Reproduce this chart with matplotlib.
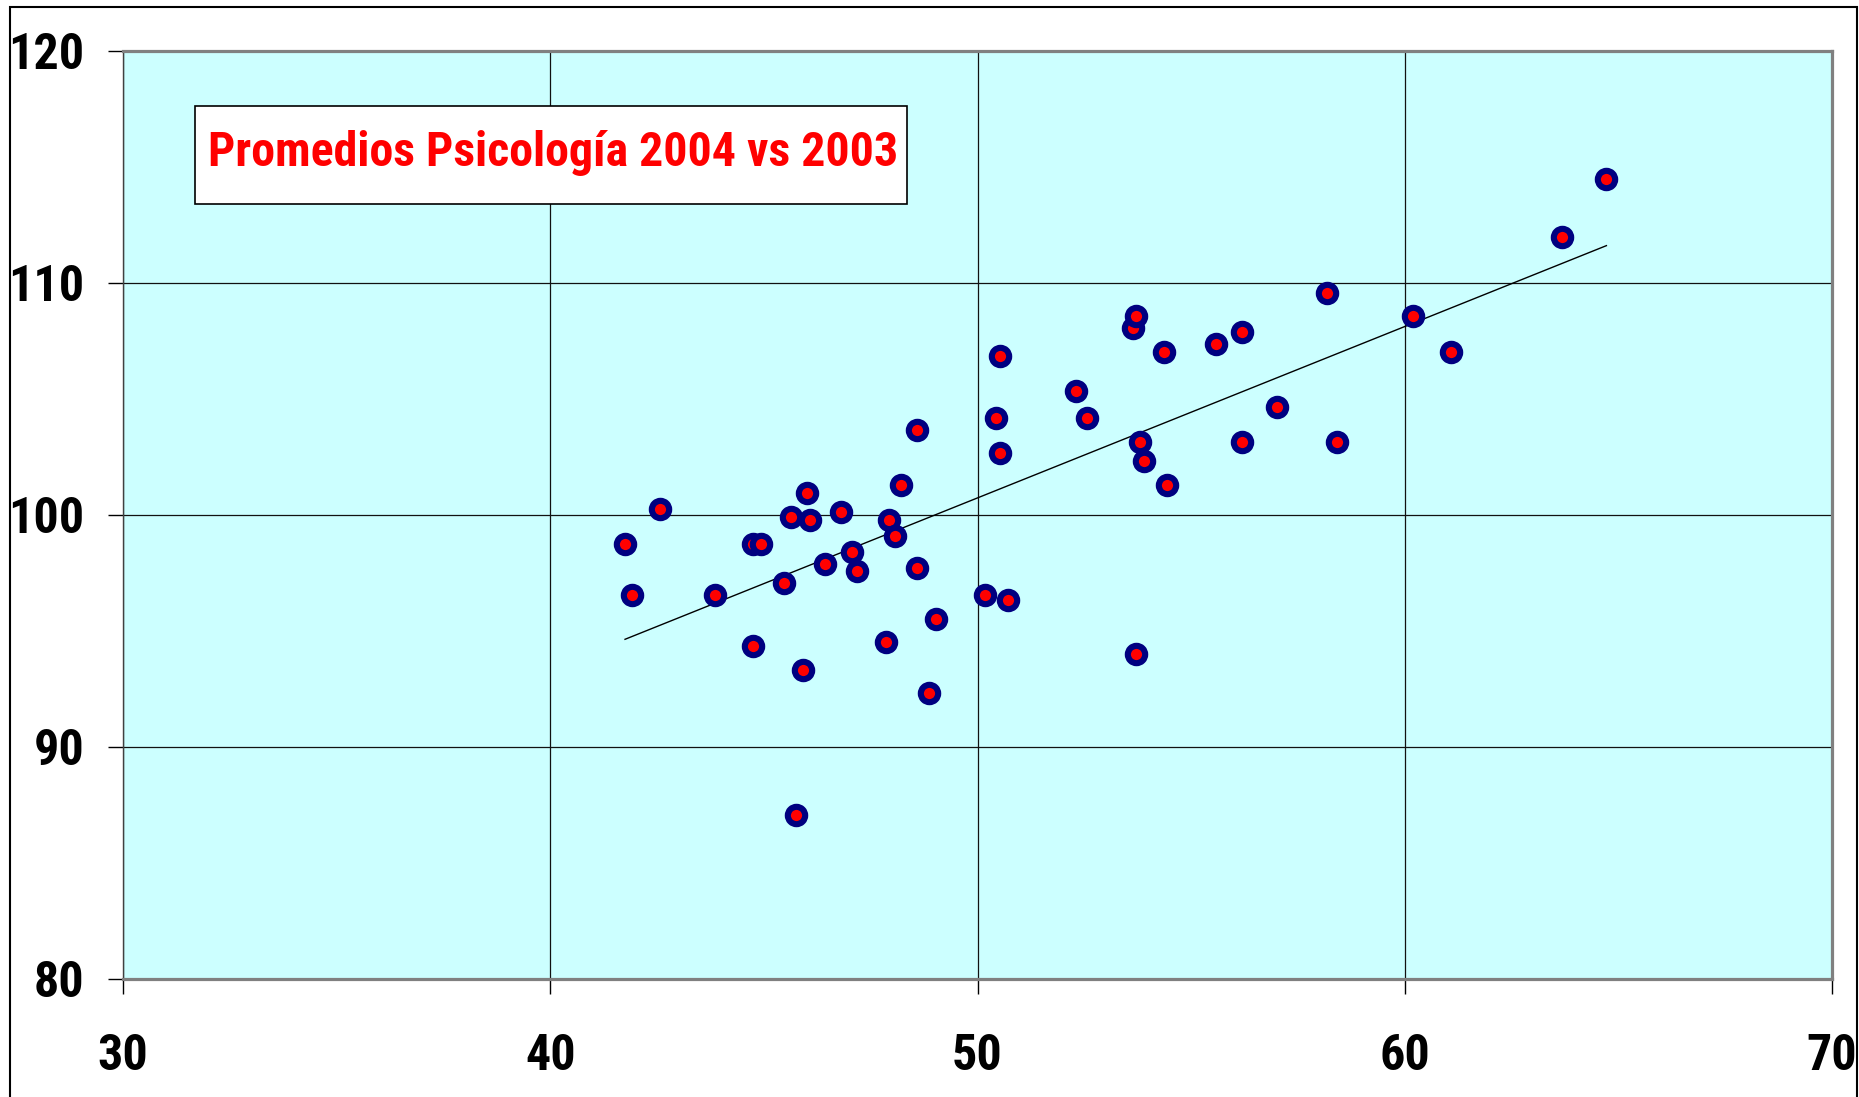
import matplotlib
matplotlib.use("Agg")
import matplotlib.pyplot as plt
from matplotlib.patches import Rectangle
import numpy as np

plt.rcParams['font.family'] = ['Roboto Condensed', 'DejaVu Sans']

# promedio 2003 (x) vs promedio 2004 (y)
prom_2003 = [41.75, 41.92, 42.56, 43.86, 44.75, 44.94, 44.75, 45.47, 45.64, 46.00,
             46.08, 45.92, 45.75, 46.44, 46.81, 47.06, 47.17, 47.86, 47.94, 48.06,
             48.22, 48.58, 48.58, 49.03, 48.86, 50.17, 50.44, 50.53, 50.53, 50.72,
             52.31, 52.56, 53.64, 53.72, 53.72, 53.81, 53.89, 54.36, 54.44, 55.58,
             56.19, 56.19, 57.00, 58.17, 58.42, 60.19, 61.08, 63.67, 64.72]
prom_2004 = [98.75, 96.55, 100.28, 96.55, 98.75, 98.75, 94.36, 97.06, 99.92, 100.95,
             99.77, 93.33, 87.05, 97.88, 100.13, 98.39, 97.57, 94.51, 99.77, 99.11,
             101.30, 103.65, 97.73, 95.53, 92.31, 96.55, 104.16, 106.87, 102.68, 96.35,
             105.34, 104.16, 108.05, 108.56, 94.00, 103.14, 102.32, 107.02, 101.30, 107.38,
             107.89, 103.14, 104.67, 109.58, 103.14, 108.56, 107.02, 111.98, 114.48]

x_ticks = [30, 40, 50, 60, 70]
y_ticks = [80, 90, 100, 110, 120]
titulo = "Promedios Psicología 2004 vs 2003"

fig = plt.figure(figsize=(18.59, 10.97), dpi=100)
ax = fig.add_axes([123 / 1859, 1 - 979 / 1097, (1832 - 123) / 1859, (979 - 51) / 1097])
ax.set_facecolor('#ccffff')

ax.set_xlim(30, 70)
ax.set_ylim(80, 120)
ax.set_xticks(x_ticks)
ax.set_yticks(y_ticks)
ax.grid(True, color='#111111', linewidth=0.9)
ax.set_axisbelow(True)

# linea de tendencia (ajuste lineal)
x = np.array(prom_2003)
y = np.array(prom_2004)
m, b = np.polyfit(x, y, 1)
xs = np.array([x.min(), x.max()])
ax.plot(xs, m * xs + b, color='black', linewidth=1.0, zorder=3)

ax.plot(x, y, linestyle='none', marker='o', markersize=12.5,
        markerfacecolor='red', markeredgecolor='#000080', markeredgewidth=4.4, zorder=4)

for s in ['top', 'right', 'bottom']:
    ax.spines[s].set_color('#808080')
    ax.spines[s].set_linewidth(2.3)
ax.spines['left'].set_color('#404040')
ax.spines['left'].set_linewidth(1.0)

ax.tick_params(direction='out', length=11, width=1, color='black',
               labelsize=36, labelcolor='black')
ax.tick_params(axis='y', pad=17)
ax.tick_params(axis='x', pad=28)
for lbl in ax.get_xticklabels() + ax.get_yticklabels():
    lbl.set_fontweight('bold')

# cuadro del titulo
fig.patches.append(Rectangle((195 / 1859, 1 - 204 / 1097), (907 - 195) / 1859, (204 - 106) / 1097,
                             transform=fig.transFigure, facecolor='white',
                             edgecolor='black', linewidth=1.2, zorder=4))
fig.text(208 / 1859, 1 - 153 / 1097, titulo, color='red', fontsize=34.5,
         fontweight='bold', ha='left', va='center', zorder=6)

# marco exterior del grafico
fig.patches.append(Rectangle((10 / 1859, -0.05), (1857 - 10) / 1859, 1.05 - 7 / 1097,
                             transform=fig.transFigure, facecolor='none',
                             edgecolor='black', linewidth=1.5))

fig.savefig('out.png', dpi=100)
